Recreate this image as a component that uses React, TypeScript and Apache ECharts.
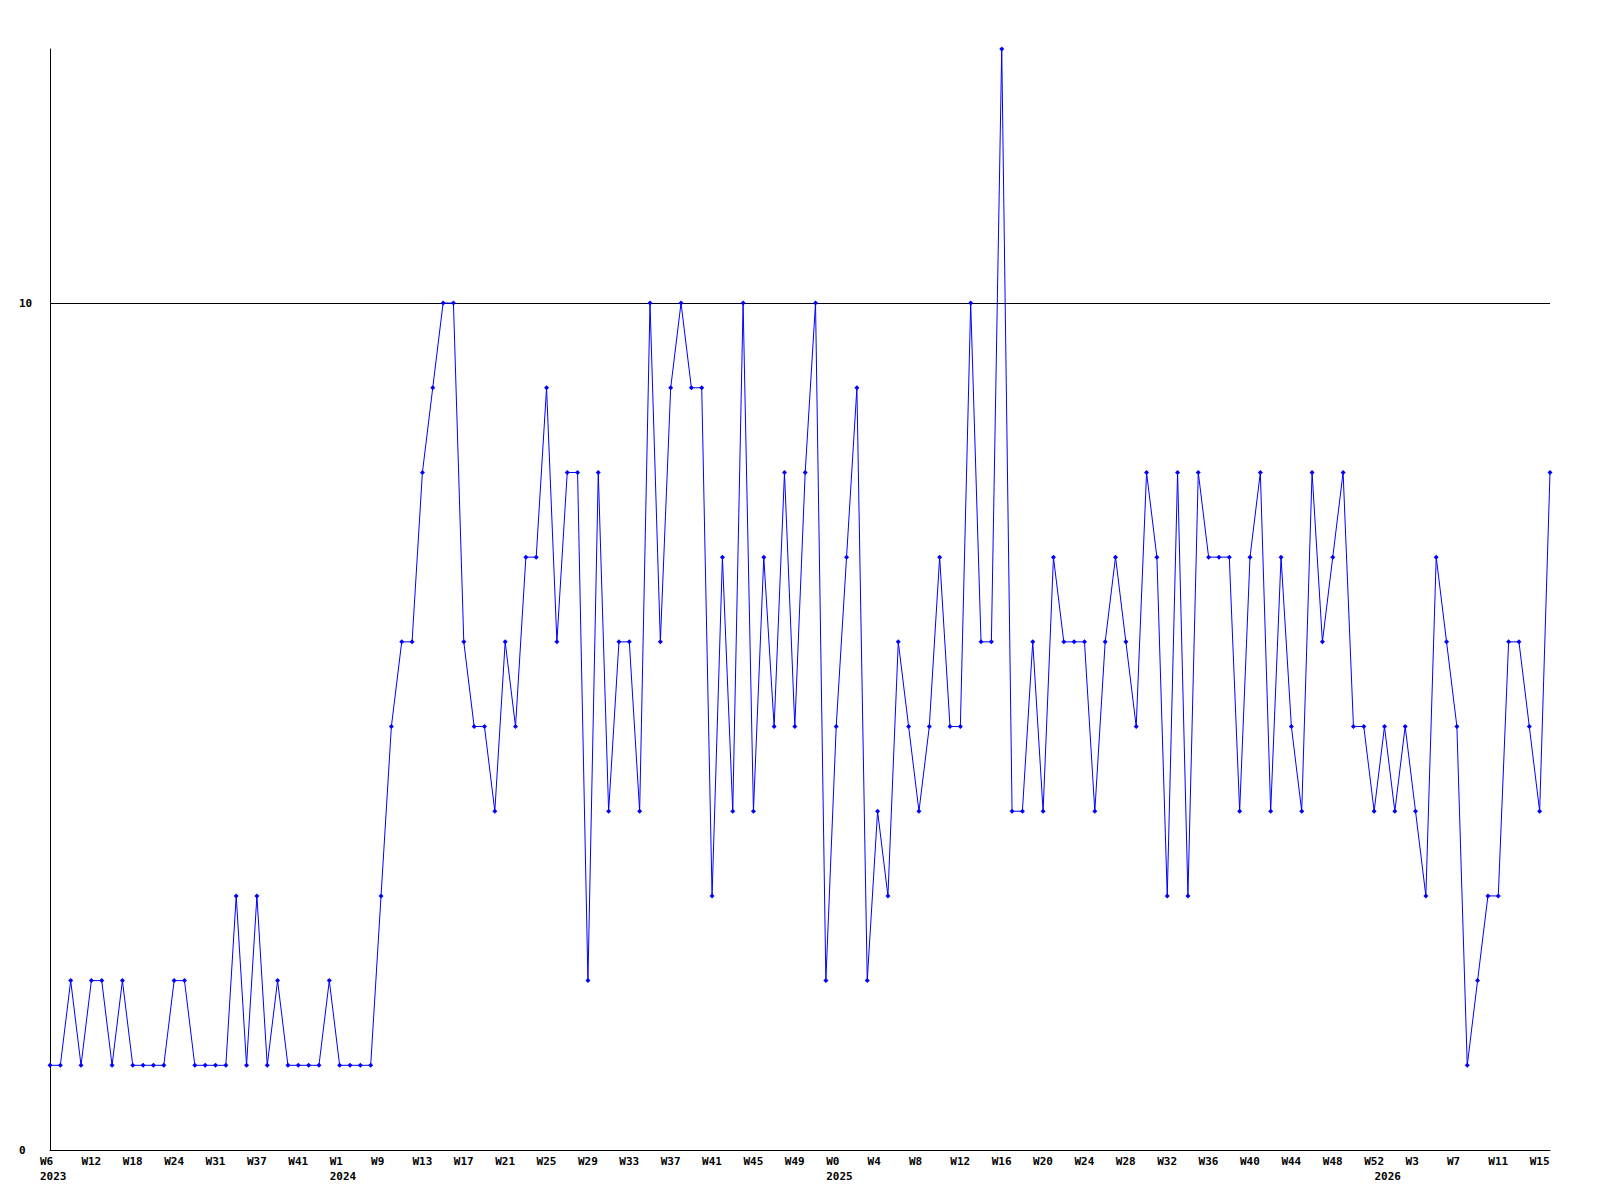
import { useEffect, useRef } from 'react';
import * as echarts from 'echarts';

const weekLabels = [
  'W6', 'W7', 'W9', 'W11', 'W12', 'W14', 'W15', 'W17', 'W18', 'W20',
  'W21', 'W23', 'W24', 'W26', 'W28', 'W29', 'W31', 'W33', 'W34', 'W36',
  'W37', 'W38', 'W39', 'W40', 'W41', 'W44', 'W47', 'W50',
  'W1', 'W3', 'W5', 'W7',
  'W9', 'W10', 'W11', 'W12', 'W13', 'W14', 'W15', 'W16', 'W17', 'W18',
  'W19', 'W20', 'W21', 'W22', 'W23', 'W24', 'W25', 'W26', 'W27', 'W28',
  'W29', 'W30', 'W31', 'W32', 'W33', 'W34', 'W35', 'W36', 'W37', 'W38',
  'W39', 'W40', 'W41', 'W42', 'W43', 'W44', 'W45', 'W46', 'W47', 'W48',
  'W49', 'W50', 'W51', 'W52',
  'W0', 'W1', 'W2', 'W3', 'W4', 'W5', 'W6', 'W7', 'W8', 'W9',
  'W10', 'W11', 'W12', 'W13', 'W14', 'W15', 'W16', 'W17', 'W18', 'W19',
  'W20', 'W21', 'W22', 'W23', 'W24', 'W25', 'W26', 'W27', 'W28', 'W29',
  'W30', 'W31', 'W32', 'W33', 'W34', 'W35', 'W36', 'W37', 'W38', 'W39',
  'W40', 'W41', 'W42', 'W43', 'W44', 'W45', 'W46', 'W47', 'W48', 'W49',
  'W50', 'W51', 'W52',
  'W0', 'W1', 'W2', 'W3', 'W4', 'W5', 'W6', 'W7', 'W8', 'W9',
  'W10', 'W11', 'W12', 'W13', 'W14', 'W15', 'W16',
];

const counts = [
  1, 1, 2, 1, 2, 2, 1, 2, 1, 1,
  1, 1, 2, 2, 1, 1, 1, 1, 3, 1,
  3, 1, 2, 1, 1, 1, 1, 2, 1, 1,
  1, 1, 3, 5, 6, 6, 8, 9, 10, 10,
  6, 5, 5, 4, 6, 5, 7, 7, 9, 6,
  8, 8, 2, 8, 4, 6, 6, 4, 10, 6,
  9, 10, 9, 9, 3, 7, 4, 10, 4, 7,
  5, 8, 5, 8, 10, 2, 5, 7, 9, 2,
  4, 3, 6, 5, 4, 5, 7, 5, 5, 10,
  6, 6, 13, 4, 4, 6, 4, 7, 6, 6,
  6, 4, 6, 7, 6, 5, 8, 7, 3, 8,
  3, 8, 7, 7, 7, 4, 7, 8, 4, 7,
  5, 4, 8, 6, 7, 8, 5, 5, 4, 5,
  4, 5, 4, 3, 7, 6, 5, 1, 2, 3,
  3, 6, 6, 5, 4, 8,
];

const yearLabels = ['2023', '2024', '2025', '2026'];
const yearStartIndex = [0, 28, 76, 129];

const Y_MIN = 0;
const Y_MAX = 13;
const Y_INTERVAL = 10;
const REF_LINE = 10;

const FONT = "'DejaVu Sans Mono', 'Liberation Mono', monospace";

export default function App() {
  const ref = useRef<HTMLDivElement>(null);

  useEffect(() => {
    document.body.style.margin = '0';
    if (!ref.current) return;
    const chart = echarts.init(ref.current, null, { renderer: 'svg' });
    const labelStyle = {
      fontFamily: FONT,
      fontWeight: 'bold' as const,
      fontSize: 11,
      color: '#000',
    };
    chart.setOption({
      animation: false,
      backgroundColor: '#fff',
      grid: [
        { left: 50, right: 50, top: 49, bottom: 50 },
        { left: 40, right: 60, top: 49, bottom: 50 },
      ],
      xAxis: [
        {
          type: 'category',
          gridIndex: 0,
          data: weekLabels,
          boundaryGap: false,
          axisLine: { show: true, lineStyle: { color: '#000', width: 1 } },
          axisTick: { show: false },
          axisLabel: { show: false },
          splitLine: { show: false },
        },
        {
          type: 'category',
          gridIndex: 1,
          data: weekLabels,
          boundaryGap: false,
          axisLine: { show: false },
          axisTick: { show: false },
          splitLine: { show: false },
          axisLabel: {
            ...labelStyle,
            interval: 3,
            align: 'left',
            margin: 6,
          },
        },
        {
          type: 'category',
          gridIndex: 1,
          position: 'bottom',
          data: weekLabels,
          boundaryGap: false,
          axisLine: { show: false },
          axisTick: { show: false },
          splitLine: { show: false },
          axisLabel: {
            ...labelStyle,
            align: 'left',
            margin: 21,
            interval: (index: number) => yearStartIndex.includes(index),
            formatter: (_v: string, index: number) => {
              const k = yearStartIndex.indexOf(index);
              return k >= 0 ? yearLabels[k] : '';
            },
          },
        },
      ],
      yAxis: [
        {
          type: 'value',
          gridIndex: 0,
          min: Y_MIN,
          max: Y_MAX,
          interval: Y_INTERVAL,
          axisLine: { show: true, lineStyle: { color: '#000', width: 1 } },
          axisTick: { show: false },
          splitLine: { show: false },
          axisLabel: {
            ...labelStyle,
            align: 'left',
            margin: 31,
            showMaxLabel: false,
          },
        },
        {
          type: 'value',
          gridIndex: 1,
          show: false,
          min: Y_MIN,
          max: Y_MAX,
        },
      ],
      series: [
        {
          type: 'line',
          xAxisIndex: 0,
          yAxisIndex: 0,
          data: counts,
          symbol: 'diamond',
          symbolSize: 5,
          showSymbol: true,
          showAllSymbol: true,
          lineStyle: { color: '#0000ff', width: 1 },
          itemStyle: { color: '#0000ff' },
          markLine: {
            silent: true,
            symbol: ['none', 'none'],
            label: { show: false },
            lineStyle: { color: '#000', width: 1, type: 'solid' },
            data: [{ yAxis: REF_LINE }],
            z: 1,
          },
        },
      ],
    });
    return () => chart.dispose();
  }, []);

  return <div ref={ref} style={{ width: 1600, height: 1200 }} />;
}
